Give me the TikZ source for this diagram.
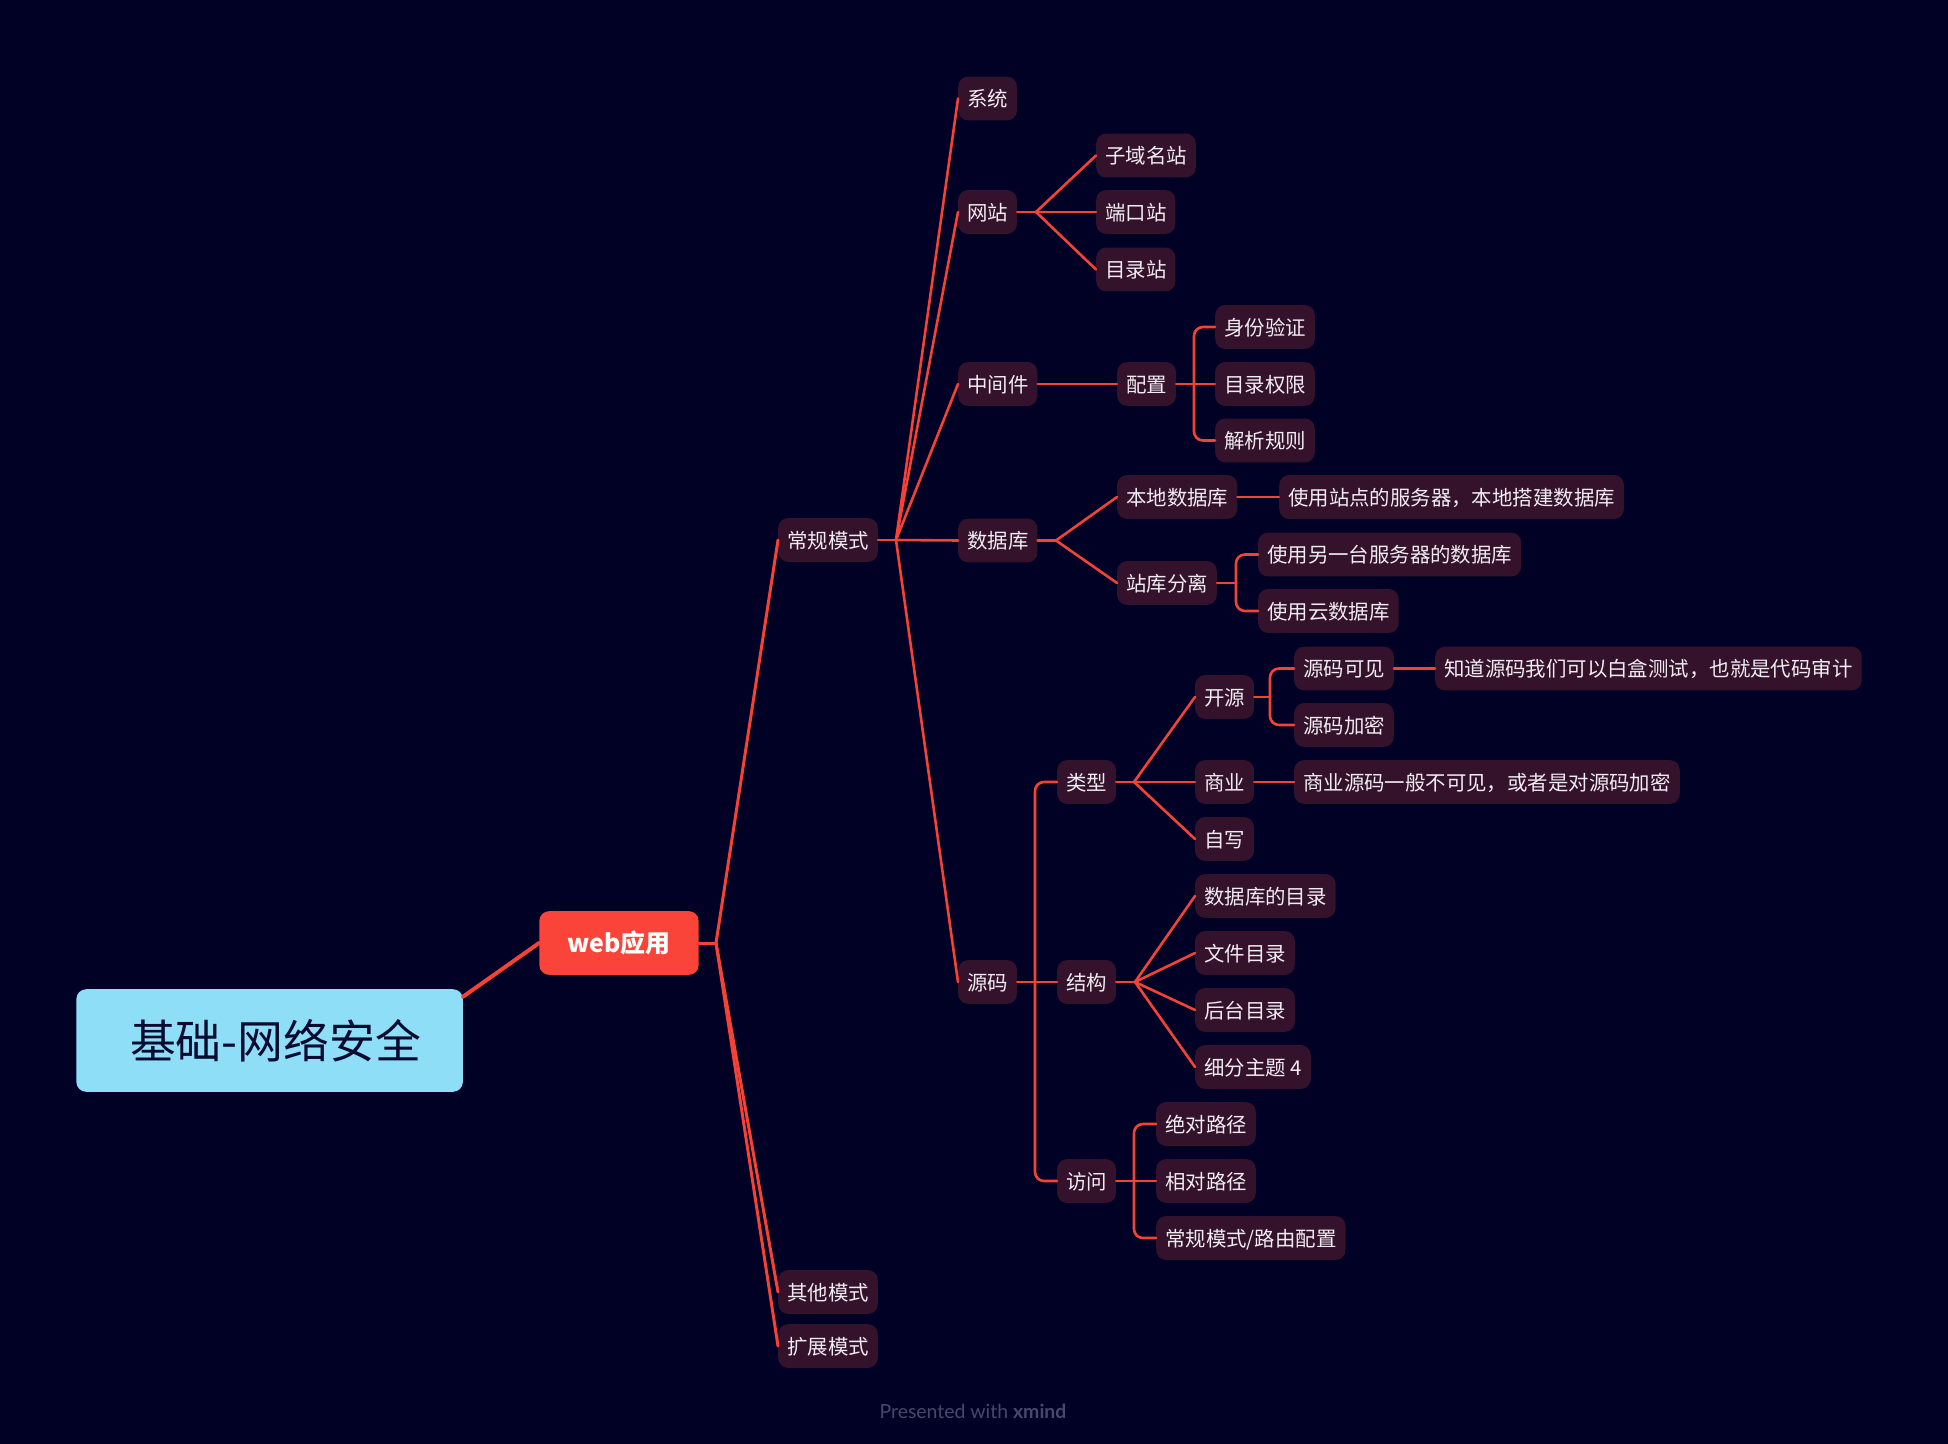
\documentclass[tikz,border=0pt]{standalone}
\usepackage{fontspec}
\setmainfont{Noto Sans CJK SC}
\newfontfamily\wmfont{Lato}
\definecolor{bgnavy}{RGB}{1,1,38}
\definecolor{topicfill}{RGB}{52,18,43}
\definecolor{topictext}{RGB}{240,236,242}
\definecolor{linkred}{RGB}{244,67,54}
\definecolor{rootblue}{RGB}{142,222,248}
\definecolor{roottext}{RGB}{8,10,48}
\definecolor{webred}{RGB}{250,68,58}
\definecolor{wmgray}{RGB}{72,72,104}
\begin{document}
\begin{tikzpicture}[x=1bp,y=-1bp,line join=round,line cap=round,
	topic/.style={fill=topicfill,text=topictext,rounded corners=10pt,anchor=west,inner xsep=9pt,inner ysep=0pt,minimum height=44pt,text height=19pt,text depth=2pt,font=\fontsize{20.5}{24}\selectfont},
	link/.style={draw=linkred,line width=2.6pt},
	bracket/.style={link,rounded corners=9pt}]
	\fill[bgnavy] (0,0) rectangle (1948,1444);
	\node[fill=rootblue,text=roottext,rounded corners=10pt,minimum width=388pt,minimum height=103pt,font=\fontsize{46}{50}\selectfont] (root) at (269.6,1040.5) {\hspace{12pt}基础-网络安全};
	\node[fill=webred,text=white,rounded corners=10pt,minimum width=160pt,minimum height=64pt,font=\bfseries\fontsize{25}{28}\selectfont] (web) at (619,943) {web应用};
	\node[topic] (changgui) at (778,540) {常规模式};
	\node[topic] (qita) at (778,1292) {其他模式};
	\node[topic] (kuozhan) at (778,1346) {扩展模式};
	\node[topic] (xitong) at (958,98.5) {系统};
	\node[topic] (wangzhan) at (958,212) {网站};
	\node[topic] (zhongjian) at (958,384) {中间件};
	\node[topic] (shujuku) at (958,540.5) {数据库};
	\node[topic] (yuanma) at (958,982) {源码};
	\node[topic] (ziyuming) at (1096,155.5) {子域名站};
	\node[topic] (duankou) at (1096,212) {端口站};
	\node[topic] (mulu) at (1096,269.5) {目录站};
	\node[topic] (peizhi) at (1117,384) {配置};
	\node[topic] (shenfen) at (1215,327) {身份验证};
	\node[topic] (quanxian) at (1215,384) {目录权限};
	\node[topic] (jiexi) at (1215,440.5) {解析规则};
	\node[topic] (bendi) at (1117,497) {本地数据库};
	\node[topic] (bendidesc) at (1279,497) {使用站点的服务器，本地搭建数据库};
	\node[topic] (zhanku) at (1117,583) {站库分离};
	\node[topic] (lingyi) at (1258,554.5) {使用另一台服务器的数据库};
	\node[topic] (yunku) at (1258,611) {使用云数据库};
	\node[topic] (leixing) at (1057,782) {类型};
	\node[topic] (jiegou) at (1057,982) {结构};
	\node[topic] (fangwen) at (1057,1181) {访问};
	\node[topic] (kaiyuan) at (1195,697) {开源};
	\node[topic] (shangye) at (1195,782) {商业};
	\node[topic] (zixie) at (1195,839) {自写};
	\node[topic] (kejian) at (1294,668.5) {源码可见};
	\node[topic] (jiami) at (1294,725) {源码加密};
	\node[topic] (kejiandesc) at (1435,668.5) {知道源码我们可以白盒测试，也就是代码审计};
	\node[topic] (shangyedesc) at (1294,782) {商业源码一般不可见，或者是对源码加密};
	\node[topic] (dbmulu) at (1195,896) {数据库的目录};
	\node[topic] (wenjian) at (1195,953) {文件目录};
	\node[topic] (houtai) at (1195,1010) {后台目录};
	\node[topic] (xifen) at (1195,1067) {细分主题 4};
	\node[topic] (juedui) at (1156,1124) {绝对路径};
	\node[topic] (xiangdui) at (1156,1181) {相对路径};
	\node[topic] (luyou) at (1156,1238) {常规模式/路由配置};
	\path
	(716,943) coordinate (webfan)
	(896,540) coordinate (cgfan)
	(1036,212) coordinate (wzfan)
	(1194,384) coordinate (pzbr)
	(1056,540.5) coordinate (sjkfan)
	(1236,583) coordinate (zkbr)
	(1035,982) coordinate (ymbr)
	(1134,782) coordinate (lxfan)
	(1270,697) coordinate (kybr)
	(1135,982) coordinate (jgfan)
	(1134,1181) coordinate (fwbr)
	;
	\draw[link,line width=4pt] ([yshift=44pt]root.east) -- (web.west);
	\draw[link,line width=3pt] (web.east) -- (webfan);
	\draw[link,line width=3pt] (webfan) -- (changgui.west);
	\draw[link,line width=3pt] (webfan) -- (qita.west);
	\draw[link,line width=3pt] (webfan) -- (kuozhan.west);
	\draw[link] (changgui.east) -- (cgfan);
	\draw[link] (cgfan) -- (xitong.west);
	\draw[link] (cgfan) -- (wangzhan.west);
	\draw[link] (cgfan) -- (zhongjian.west);
	\draw[link] (cgfan) -- (shujuku.west);
	\draw[link] (cgfan) -- (yuanma.west);
	\draw[link] (wangzhan.east) -- (wzfan);
	\draw[link] (wzfan) -- (ziyuming.west);
	\draw[link] (wzfan) -- (duankou.west);
	\draw[link] (wzfan) -- (mulu.west);
	\draw[link] (zhongjian.east) -- (peizhi.west);
	\draw[link] (peizhi.east) -- (quanxian.west);
	\draw[bracket] (pzbr) |- (shenfen.west);
	\draw[bracket] (pzbr) |- (jiexi.west);
	\draw[link] (shujuku.east) -- (sjkfan);
	\draw[link] (sjkfan) -- (bendi.west);
	\draw[link] (sjkfan) -- (zhanku.west);
	\draw[link] (bendi.east) -- (bendidesc.west);
	\draw[link] (zhanku.east) -- (zkbr);
	\draw[bracket] (zkbr) |- (lingyi.west);
	\draw[bracket] (zkbr) |- (yunku.west);
	\draw[link] (yuanma.east) -- (jiegou.west);
	\draw[bracket] (ymbr) |- (leixing.west);
	\draw[bracket] (ymbr) |- (fangwen.west);
	\draw[link] (leixing.east) -- (lxfan);
	\draw[link] (lxfan) -- (kaiyuan.west);
	\draw[link] (lxfan) -- (shangye.west);
	\draw[link] (lxfan) -- (zixie.west);
	\draw[link] (kaiyuan.east) -- (kybr);
	\draw[bracket] (kybr) |- (kejian.west);
	\draw[bracket] (kybr) |- (jiami.west);
	\draw[link] (kejian.east) -- (kejiandesc.west);
	\draw[link] (shangye.east) -- (shangyedesc.west);
	\draw[link] (jiegou.east) -- (jgfan);
	\draw[link] (jgfan) -- (dbmulu.west);
	\draw[link] (jgfan) -- (wenjian.west);
	\draw[link] (jgfan) -- (houtai.west);
	\draw[link] (jgfan) -- (xifen.west);
	\draw[link] (fangwen.east) -- (xiangdui.west);
	\draw[bracket] (fwbr) |- (juedui.west);
	\draw[bracket] (fwbr) |- (luyou.west);
	\node[text=wmgray,font=\wmfont\fontsize{19.5}{22}\selectfont] (credit) at (973,1411) {Presented with \textbf{xmind}};
\end{tikzpicture}
\end{document}
